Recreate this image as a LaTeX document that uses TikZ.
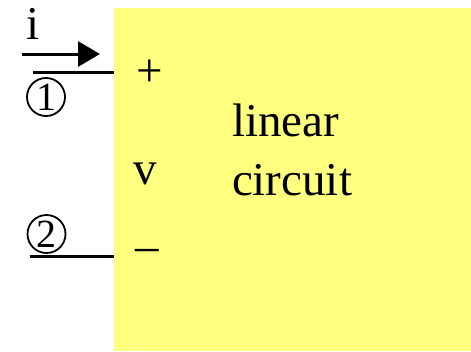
\documentclass[tikz,border=0pt]{standalone}
\usepackage{fontspec}
\setmainfont{Liberation Serif}
\usetikzlibrary{arrows.meta}
\definecolor{boxyellow}{RGB}{255,255,128}
\begin{document}
\begin{tikzpicture}[x=1pt,y=-1pt,
  bigtext/.style={font=\fontsize{47}{56}\selectfont, inner sep=0pt, outer sep=0pt},
  digit/.style={circle, draw, line width=1.8pt, minimum size=38pt, inner sep=0pt,
                font=\fontsize{40}{48}\selectfont},
  wire/.style={line width=3pt},
  current/.style={line width=3pt, -{Triangle[length=22pt,width=25pt]}}]
  \useasboundingbox (0,0) rectangle (471,351);
  % linear circuit box
  \node[fill=boxyellow, draw=none, inner sep=0pt, minimum width=357pt, minimum height=343pt,
        anchor=north west] (box) at (114,8) {};
  % terminals
  \coordinate (a1) at (33,72);
  \coordinate (a2) at (30,256.5);
  \draw[wire] (a1) -- (a1 -| box.west);
  \draw[wire] (a2) -- (a2 -| box.west);
  % current arrow
  \coordinate (c1) at (22,54);
  \coordinate (c2) at (100,54);
  \draw[current] (c1) -- (c2);
  \node[bigtext, anchor=base west] (i) at (27,39) {i};
  % node numbers
  \node[digit] (n1) at (46,97) {1};
  \node[digit] (n2) at (46.5,234) {2};
  % polarity and voltage
  \node[bigtext] (plus) at (149.5,73.5) {+};
  \node[bigtext, anchor=base west] (v) at (133,184) {v};
  \node[bigtext] (minus) at (147,255.5) {–};
  % label
  \node[bigtext, anchor=base west] (l1) at (232,136) {linear};
  \node[bigtext, anchor=base west] (l2) at (232,195) {circuit};
\end{tikzpicture}
\end{document}
